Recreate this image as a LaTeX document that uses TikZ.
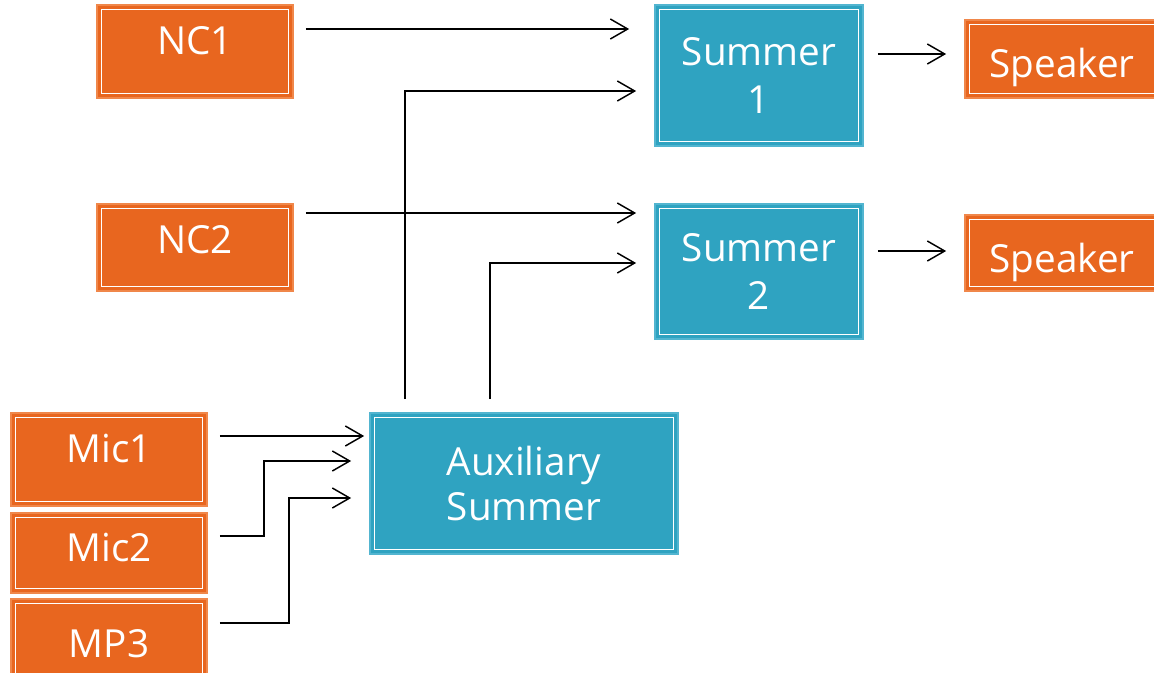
\documentclass[tikz,border=0pt]{standalone}
\usepackage{fontspec}
\setmainfont{Open Sans}
\usetikzlibrary{arrows.meta}
\definecolor{orgfill}{HTML}{E8661F}
\definecolor{orgline}{HTML}{F0874A}
\definecolor{tealfill}{HTML}{2FA3C1}
\definecolor{tealline}{HTML}{52B5D0}
\newcommand\upby[2]{\raisebox{#1}[\height][\depth]{#2}}
\tikzset{
  basebox/.style={rectangle, inner sep=0pt, text=white, line width=1.3pt,
    font=\fontsize{29}{36}\selectfont, align=center,
    path picture={\draw[white,line width=0.9pt]
      ([shift={(3.3pt,3.3pt)}]path picture bounding box.south west) rectangle
      ([shift={(-3.3pt,-3.3pt)}]path picture bounding box.north east);}},
  obox/.style={basebox, fill=orgfill, draw=orgline},
  tbox/.style={basebox, fill=tealfill, draw=tealline},
  arr/.style={-{Straight Barb[length=13pt,width=15pt]}, line width=1.1pt, black},
}
\begin{document}
\begin{tikzpicture}[x=0.75pt,y=-0.75pt]
\useasboundingbox (0,0) rectangle (1154,672);
\fill[white] (0,0) rectangle (1154,672);
\clip (0,0) rectangle (1154,672);
% sources
\node[obox, minimum width=196*0.75pt, minimum height=93*0.75pt] (nc1) at (195,51.5) {\upby{7.9pt}{NC1}};
\node[obox, minimum width=196*0.75pt, minimum height=87*0.75pt] (nc2) at (195,247.5) {\upby{5.6pt}{NC2}};
\node[obox, minimum width=196*0.75pt, minimum height=93*0.75pt] (mic1) at (109,459.5) {\upby{7.9pt}{Mic1}};
\node[obox, minimum width=196*0.75pt, minimum height=80*0.75pt] (mic2) at (109,553) {\upby{4.1pt}{Mic2}};
\node[obox, minimum width=196*0.75pt, minimum height=91*0.75pt] (mp3) at (109,644.5) {\upby{0.7pt}{MP3}};
% summers
\node[tbox, minimum width=208*0.75pt, minimum height=141*0.75pt] (s1) at (759,75.5) {Summer\\1};
\node[tbox, minimum width=208*0.75pt, minimum height=135*0.75pt] (s2) at (759,271.5) {Summer\\2};
\node[tbox, minimum width=308*0.75pt, minimum height=141*0.75pt] (aux) at (524,483.5) {Auxiliary\\[-2.3pt]Summer};
% speakers
\node[obox, minimum width=210*0.75pt, minimum height=78*0.75pt] (sp1) at (1070,59) {\upby{-6.4pt}{Speaker}\kern12pt};
\node[obox, minimum width=210*0.75pt, minimum height=76*0.75pt] (sp2) at (1070,253) {\upby{-7.1pt}{Speaker}\kern12pt};
% connectors
\draw[arr] ([shift={(12,-22.5)}]nc1.east) -- ([shift={(-25,-46.5)}]s1.west);
\draw[arr] ([shift={(-119,-13)}]aux.north) |- ([shift={(-18,15.5)}]s1.west);
\draw[arr] ([shift={(12,-34.5)}]nc2.east) -- ([shift={(-18,-58.5)}]s2.west);
\draw[arr] ([shift={(-34,-13)}]aux.north) |- ([shift={(-18,-8.5)}]s2.west);
\draw[arr] ([shift={(14,-21.5)}]s1.east) -- ([shift={(-18,-5)}]sp1.west);
\draw[arr] ([shift={(14,-20.5)}]s2.east) -- ([shift={(-18,-2)}]sp2.west);
\draw[arr] ([shift={(12,-23.5)}]mic1.east) -- ([shift={(-5,-47.5)}]aux.west);
\draw[arr] ([shift={(12,-17)}]mic2.east) -- ++(44,0) |- ([shift={(-18,-22.5)}]aux.west);
\draw[arr] ([shift={(12,-21.5)}]mp3.east) -- ++(69,0) |- ([shift={(-18,14.5)}]aux.west);
\end{tikzpicture}
\end{document}
